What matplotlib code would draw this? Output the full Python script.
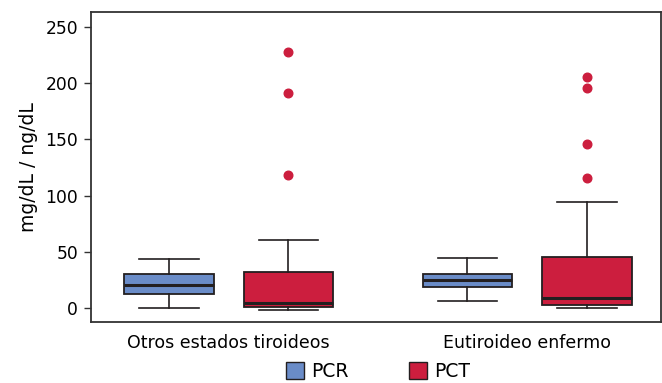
import matplotlib
matplotlib.use('Agg')
import matplotlib.pyplot as plt
from matplotlib.patches import Patch

plt.rcParams['font.family'] = ['DejaVu Sans']

groups = ['Otros estados tiroideos', 'Eutiroideo enfermo']
series = ['PCR', 'PCT']
colors = ['#6A8CC8', '#CC1E3E']

# box statistics (mg/dL / ng/dL)
pcr_whislo = [0.0, 6.8]
pcr_q1 = [12.7, 18.9]
pcr_med = [20.7, 24.8]
pcr_q3 = [30.2, 30.2]
pcr_whishi = [43.7, 44.9]
pcr_fliers = [[], []]

pct_whislo = [-1.2, 0.3]
pct_q1 = [1.4, 3.2]
pct_med = [4.4, 8.9]
pct_q3 = [32.2, 45.5]
pct_whishi = [60.9, 94.3]
pct_fliers = [[227.4, 190.8, 118.3], [205.2, 195.2, 146.0, 115.9]]

yticks = [0, 50, 100, 150, 200, 250]


def make_stats(whislo, q1, med, q3, whishi, fliers):
    out = []
    for i in range(len(whislo)):
        out.append({'whislo': whislo[i], 'q1': q1[i], 'med': med[i],
                    'q3': q3[i], 'whishi': whishi[i], 'fliers': fliers[i]})
    return out


stats = [
    make_stats(pcr_whislo, pcr_q1, pcr_med, pcr_q3, pcr_whishi, pcr_fliers),
    make_stats(pct_whislo, pct_q1, pct_med, pct_q3, pct_whishi, pct_fliers),
]

fig = plt.figure(figsize=(6.62, 3.83), dpi=100)
ax = fig.add_axes([0.137, 0.16, 0.862, 0.8087])

edge = '#231F20'
centers = [1, 2]
offsets = [-0.2, 0.2]
for s in range(2):
    pos = [c + offsets[s] for c in centers]
    ax.bxp(stats[s], positions=pos, widths=0.3, patch_artist=True,
           showfliers=True, capwidths=0.2,
           boxprops=dict(facecolor=colors[s], edgecolor=edge, linewidth=1.3),
           medianprops=dict(color=edge, linewidth=2.2),
           whiskerprops=dict(color=edge, linewidth=1.2),
           capprops=dict(color=edge, linewidth=1.2),
           flierprops=dict(marker='o', markerfacecolor=colors[1],
                           markeredgecolor=colors[1], markersize=6.2))

ax.set_xlim(0.537, 2.45)
ax.set_ylim(-12, 263)
ax.set_yticks(yticks)
ax.set_xticks(centers)
ax.set_xticklabels(groups)
ax.tick_params(axis='y', labelsize=12.3, length=5, width=1.0, color='#333333', pad=4)
ax.tick_params(axis='x', labelsize=12.5, length=0, pad=9)
for sp in ax.spines.values():
    sp.set_color('#333333')
    sp.set_linewidth(1.3)
ax.set_ylabel('mg/dL / ng/dL', fontsize=13.5, labelpad=5)

handles = [Patch(facecolor=colors[i], edgecolor=edge, linewidth=1.0, label=series[i])
           for i in range(2)]
fig.legend(handles=handles, loc='center', bbox_to_anchor=(0.571, 0.03), ncol=2,
           frameon=False, fontsize=13.5, handlelength=0.95, handleheight=0.95,
           handletextpad=0.4, columnspacing=3.2)

fig.savefig('out.png', dpi=100)
